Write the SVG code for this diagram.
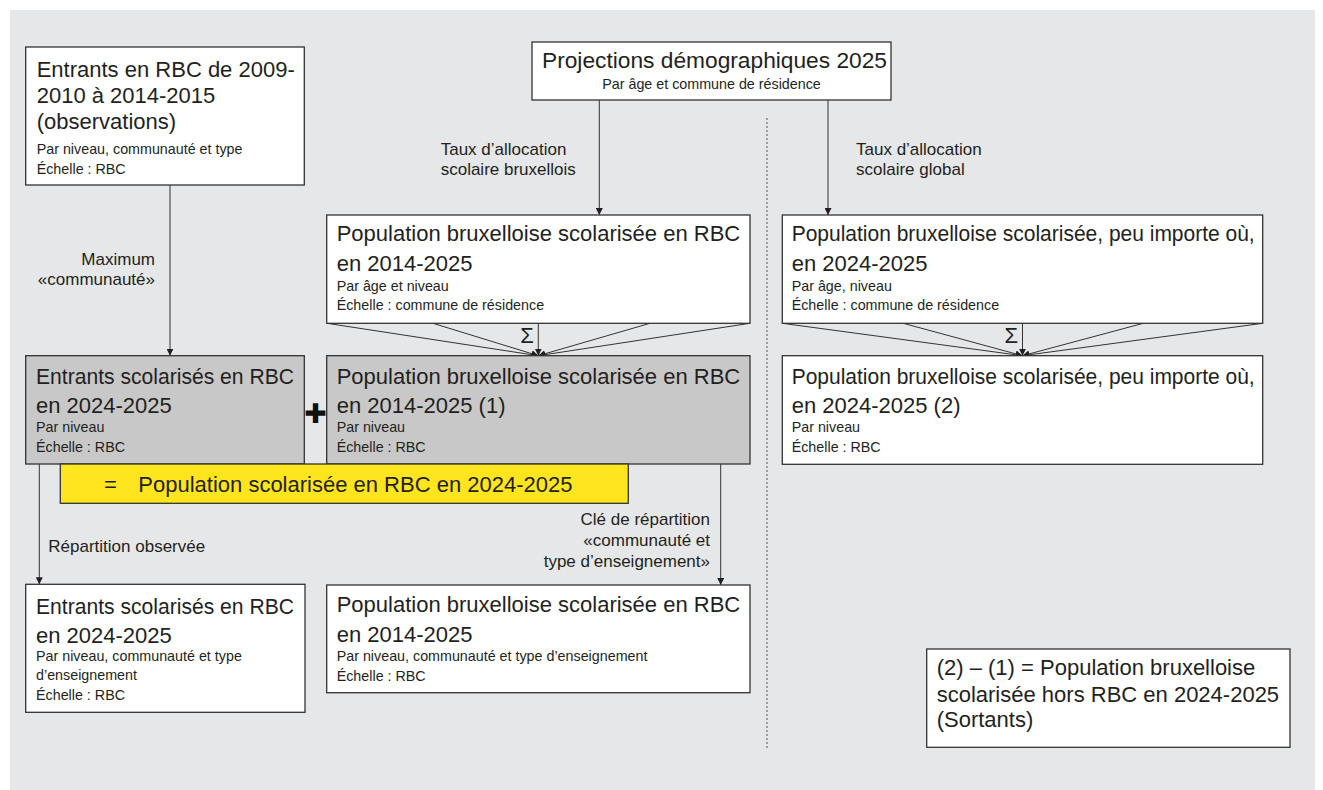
<svg xmlns="http://www.w3.org/2000/svg" width="1323" height="790" viewBox="0 0 1323 790">
  <style>
    text { font-family: "Liberation Sans", Arial, sans-serif; fill: #231f20; }
    .t { font-size: 22px; }
    .s { font-size: 14.3px; }
    .l { font-size: 17px; }
    .box { fill: #ffffff; stroke: #333333; stroke-width: 1.3; }
    .grey { fill: #c8c8c8; stroke: #333333; stroke-width: 1.3; }
    .link { fill: none; stroke: #333333; stroke-width: 1; }
    .arrow { marker-end: url(#ah); }
  </style>
  <defs>
    <marker id="ah" viewBox="0 0 8 8" refX="8" refY="4" markerWidth="7" markerHeight="7" markerUnits="userSpaceOnUse" orient="auto">
      <path d="M0,0 L8,4 L0,8 z" fill="#231f20"/>
    </marker>
  </defs>

  <!-- background panel -->
  <rect x="10" y="10" width="1305" height="780" fill="#e6e7e8"/>

  <!-- separator between the two computation paths -->
  <line x1="767" y1="118" x2="767" y2="748" stroke="#555555" stroke-width="1" stroke-dasharray="2 2"/>

  <g id="connectors">
    <line class="link arrow" x1="170" y1="185" x2="170" y2="355.7"/>
    <line class="link arrow" x1="599.3" y1="100" x2="599.3" y2="215"/>
    <line class="link arrow" x1="828" y1="100" x2="828" y2="215"/>
    <line class="link arrow" x1="39.3" y1="464" x2="39.3" y2="584.3"/>
    <line class="link arrow" x1="720.7" y1="464" x2="720.7" y2="585"/>
    <!-- summation fan, left -->
    <line class="link arrow" x1="327" y1="323.3" x2="538.3" y2="355.7"/>
    <line class="link arrow" x1="433" y1="323.3" x2="538.3" y2="355.7"/>
    <line class="link arrow" x1="538.3" y1="323.3" x2="538.3" y2="355.7"/>
    <line class="link arrow" x1="650" y1="323.3" x2="538.3" y2="355.7"/>
    <line class="link arrow" x1="750" y1="323.3" x2="538.3" y2="355.7"/>
    <!-- summation fan, right -->
    <line class="link arrow" x1="782.3" y1="323.3" x2="1022.5" y2="355.7"/>
    <line class="link arrow" x1="903.3" y1="323.3" x2="1022.5" y2="355.7"/>
    <line class="link arrow" x1="1022.5" y1="323.3" x2="1022.5" y2="355.7"/>
    <line class="link arrow" x1="1143.3" y1="323.3" x2="1022.5" y2="355.7"/>
    <line class="link arrow" x1="1262.7" y1="323.3" x2="1022.5" y2="355.7"/>
    <text class="t" x="533.8" y="342.5" text-anchor="end">Σ</text>
    <text class="t" x="1018" y="342.5" text-anchor="end">Σ</text>
    <!-- edge labels -->
    <text class="l" x="155" y="265" text-anchor="end">Maximum</text>
    <text class="l" x="155" y="285" text-anchor="end">«communauté»</text>
    <text class="l" x="440.7" y="155">Taux d’allocation</text>
    <text class="l" x="440.7" y="175">scolaire bruxellois</text>
    <text class="l" x="856" y="155">Taux d’allocation</text>
    <text class="l" x="856" y="175">scolaire global</text>
    <text class="l" x="48.3" y="551.7">Répartition observée</text>
    <text class="l" x="710" y="525" text-anchor="end">Clé de répartition</text>
    <text class="l" x="710" y="546" text-anchor="end">«communauté et</text>
    <text class="l" x="710" y="566.5" text-anchor="end">type d’enseignement»</text>
  </g>

  <g id="entrants-observes">
    <rect class="box" x="25.7" y="47" width="278.6" height="138"/>
    <text class="t" x="36.7" y="77">Entrants en RBC de 2009-</text>
    <text class="t" x="36.7" y="103">2010 à 2014-2015</text>
    <text class="t" x="36.7" y="129">(observations)</text>
    <text class="s" x="36.7" y="153.5">Par niveau, communauté et type</text>
    <text class="s" x="36.7" y="173.5">Échelle : RBC</text>
  </g>

  <g id="projections">
    <rect class="box" x="532" y="42" width="359" height="58"/>
    <text class="t" x="714.5" y="67.5" text-anchor="middle" textLength="345" lengthAdjust="spacingAndGlyphs">Projections démographiques 2025</text>
    <text class="s" x="711.5" y="89.3" text-anchor="middle">Par âge et commune de résidence</text>
  </g>

  <g id="pop-rbc-age">
    <rect class="box" x="326.7" y="215" width="423.3" height="108.3"/>
    <text class="t" x="336.7" y="241">Population bruxelloise scolarisée en RBC</text>
    <text class="t" x="336.7" y="271">en 2014-2025</text>
    <text class="s" x="336.7" y="290.5">Par âge et niveau</text>
    <text class="s" x="336.7" y="310">Échelle : commune de résidence</text>
  </g>

  <g id="pop-global-age">
    <rect class="box" x="782.3" y="215" width="480.4" height="108.3"/>
    <text class="t" x="791.7" y="241" textLength="463" lengthAdjust="spacingAndGlyphs">Population bruxelloise scolarisée, peu importe où,</text>
    <text class="t" x="791.7" y="271">en 2024-2025</text>
    <text class="s" x="791.7" y="290.5">Par âge, niveau</text>
    <text class="s" x="791.7" y="310">Échelle : commune de résidence</text>
  </g>

  <g id="entrants-niveau">
    <rect class="grey" x="25.7" y="355.7" width="278.6" height="108.3"/>
    <text class="t" x="36" y="384" textLength="258" lengthAdjust="spacingAndGlyphs">Entrants scolarisés en RBC</text>
    <text class="t" x="36" y="413">en 2024-2025</text>
    <text class="s" x="36" y="432.3">Par niveau</text>
    <text class="s" x="36" y="452">Échelle : RBC</text>
  </g>

  <g id="pop-rbc-niveau">
    <rect class="grey" x="326.7" y="355.7" width="423.3" height="108.3"/>
    <text class="t" x="336.7" y="383.5">Population bruxelloise scolarisée en RBC</text>
    <text class="t" x="336.7" y="413">en 2014-2025 (1)</text>
    <text class="s" x="336.7" y="432.3">Par niveau</text>
    <text class="s" x="336.7" y="452">Échelle : RBC</text>
  </g>

  <g id="plus">
    <text x="315.5" y="423" text-anchor="middle" style="font-family: 'DejaVu Sans', sans-serif; font-size: 27px; fill: #111111;">✚</text>
  </g>

  <g id="pop-global-niveau">
    <rect class="box" x="782.3" y="355.7" width="480.4" height="108.6"/>
    <text class="t" x="791.7" y="383.5" textLength="463" lengthAdjust="spacingAndGlyphs">Population bruxelloise scolarisée, peu importe où,</text>
    <text class="t" x="791.7" y="413">en 2024-2025 (2)</text>
    <text class="s" x="791.7" y="432.3">Par niveau</text>
    <text class="s" x="791.7" y="452">Échelle : RBC</text>
  </g>

  <g id="total-rbc">
    <rect x="60.3" y="464" width="568" height="39.3" fill="#ffe51e" stroke="#333333" stroke-width="1.3"/>
    <text class="t" x="104" y="491.7">=</text>
    <text class="t" x="138.3" y="491.7">Population scolarisée en RBC en 2024-2025</text>
  </g>

  <g id="entrants-detail">
    <rect class="box" x="25.7" y="584.3" width="279.3" height="128"/>
    <text class="t" x="36" y="614" textLength="258" lengthAdjust="spacingAndGlyphs">Entrants scolarisés en RBC</text>
    <text class="t" x="36" y="643">en 2024-2025</text>
    <text class="s" x="36" y="660.5">Par niveau, communauté et type</text>
    <text class="s" x="36" y="680">d’enseignement</text>
    <text class="s" x="36" y="700">Échelle : RBC</text>
  </g>

  <g id="pop-rbc-detail">
    <rect class="box" x="326.7" y="585" width="423.3" height="107.7"/>
    <text class="t" x="336.7" y="611.7">Population bruxelloise scolarisée en RBC</text>
    <text class="t" x="336.7" y="641.7">en 2014-2025</text>
    <text class="s" x="336.7" y="660.7">Par niveau, communauté et type d’enseignement</text>
    <text class="s" x="336.7" y="680.7">Échelle : RBC</text>
  </g>

  <g id="sortants">
    <rect class="box" x="926.7" y="649" width="363.3" height="98.3"/>
    <text class="t" x="936.7" y="675">(2) – (1) = Population bruxelloise</text>
    <text class="t" x="936.7" y="701.5">scolarisée hors RBC en 2024-2025</text>
    <text class="t" x="936.7" y="726.7">(Sortants)</text>
  </g>
</svg>
